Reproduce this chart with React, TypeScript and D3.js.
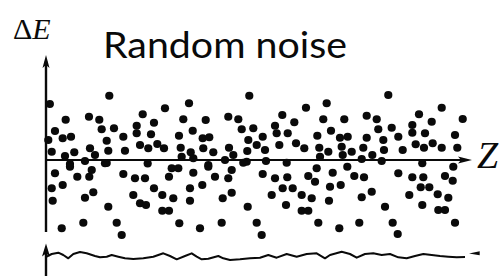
import * as d3 from "d3";

const W = 500;
const H = 276;

// noise dots: [z, ΔE]
const noisePoints: [number, number][] = [
  [0.9, 2.24], [14.86, 2.57], [4.62, 1.61], [10.09, 1.73], [12.51, 1.61], [22.7, 1.83],
  [2.11, 1.16], [13.07, 1.23], [15.96, 1.27], [21.29, 1.37], [21.29, 1.07], [3.92, 0.87],
  [5.87, 0.93], [18.15, 0.93], [0.54, 0.8], [14.25, 0.77], [1.34, 0.33], [6.64, 0.31],
  [10.33, 0.47], [11.5, 0.2], [14.62, 0.37], [18.54, 0.37], [22.07, 0.6], [24.01, 0.47],
  [4.46, 0.16], [9.15, -0.04], [5.63, -0.16], [14.25, -0.12],
  [47.72, 2.57], [27.93, 2.07], [33.57, 2.27], [25.35, 1.49], [32.23, 1.63], [37.49, 1.6],
  [42.79, 1.73], [45.14, 1.63], [34.44, 1.17], [45.94, 1.23], [48.66, 1.27], [24.65, 1.03],
  [31.22, 0.97], [36.78, 0.87], [38.33, 0.91], [47.49, 0.8], [26.13, 0.64], [27.7, 0.47],
  [31.62, 0.49], [33.97, 0.31], [36.92, 0.47], [39.27, 0.31], [42.96, 0.49], [43.97, 0.2],
  [47.25, 0.36], [49.46, 0.6], [31.85, 0.13], [34.58, 0.07], [38.1, -0.2], [42.02, 0],
  [47.11, -0.07],
  [65.89, 2.27], [61.03, 2.09], [55.47, 1.8], [58.29, 1.51], [65.09, 1.63], [70.02, 1.63],
  [75.28, 1.77], [53.76, 1.37], [66.9, 1.17], [50.87, 0.93], [54.15, 1.07], [56.74, 1.07],
  [63.69, 0.97], [69.01, 0.89], [70.82, 0.93], [75.28, 0.89], [51.41, 0.4], [54.77, 0.6],
  [58.69, 0.67], [60.63, 0.47], [64.15, 0.49], [66.27, 0.33], [69.41, 0.53], [71.76, 0.33],
  [74.48, 0.49], [51.64, -0.04], [56.5, -0.11], [64.32, 0.13], [69.65, 0.2], [74.11, 0.04],
  [80.35, 2.6], [92.89, 2.09], [87.56, 1.83], [97.82, 1.64], [77.63, 1.63], [90.54, 1.53],
  [85.99, 1.4], [78.0, 1.23], [81.15, 1.29], [85.99, 1.09], [88.97, 1.07], [96.01, 1.0],
  [82.7, 0.93], [79.18, 0.8], [86.78, 0.63], [90.77, 0.67], [88.73, 0.49], [92.89, 0.49],
  [96.55, 0.49], [79.34, 0.4], [83.73, 0.4], [76.6, 0.2], [78.8, -0.04],
  [5.63, -0.27], [2.11, -0.53], [7.35, -0.67], [10.16, -0.67], [10.73, -0.4], [13.85, -0.13],
  [18.15, -0.56], [20.89, -0.73], [23.24, -0.73], [1.34, -1.13], [3.92, -1.0], [9.15, -1.51],
  [11.1, -1.29], [20.49, -1.4], [1.57, -1.63], [14.62, -1.87], [22.07, -1.73], [23.47, -1.8],
  [8.76, -2.51], [16.6, -2.51], [3.69, -2.73], [17.77, -3.0], [23.87, -0.14],
  [29.51, -0.33], [31.06, -0.33], [34.58, -0.51], [38.1, -0.27], [43.59, -0.4], [46.31, -0.11],
  [28.87, -0.67], [39.67, -0.67], [42.79, -0.73], [25.35, -1.13], [33.8, -1.13], [36.69, -1.0],
  [27.3, -1.4], [29.88, -1.53], [33.8, -1.63], [41.48, -1.53], [43.59, -1.31], [27.3, -2.03],
  [28.87, -2.03], [47.35, -1.87], [31.29, -2.53], [41.24, -2.51], [49.46, -2.51], [36.15, -2.73],
  [50.87, -0.56], [53.76, -0.73], [56.64, -0.69], [61.57, -0.64], [63.15, -0.87], [63.54, -0.33],
  [67.3, -0.51], [70.73, -0.27], [72.37, -0.64], [74.65, -0.69], [55.56, -1.13], [57.91, -1.13],
  [66.67, -1.07], [69.18, -1.0], [52.98, -1.4], [60.02, -1.4], [62.37, -1.53], [74.11, -1.49],
  [66.43, -1.63], [56.34, -1.8], [60.02, -2.03], [61.57, -2.03], [63.92, -2.51], [73.54, -2.51],
  [68.85, -2.73], [50.63, -3.0],
  [88.33, -0.13], [95.61, -0.27], [82.7, -0.53], [85.99, -0.69], [88.57, -0.69], [93.66, -0.64],
  [95.47, -0.83], [87.96, -1.09], [89.98, -1.09], [76.46, -1.27], [85.28, -1.4], [91.95, -1.37],
  [94.44, -1.51], [79.58, -1.87], [88.33, -1.8], [92.09, -2.0], [93.66, -2.0], [81.38, -2.51],
  [96.01, -2.51], [82.56, -2.96],
];

// wavy trace under the plot
const waveZ = [
  0.16, 1.34, 2.89, 4.06, 5.23, 6.41, 7.98, 9.55, 11.5, 12.68, 14.25, 15.42, 16.97, 18.54,
  20.49, 22.84, 25.19, 27.54, 29.11, 30.68, 32.63, 34.2, 35.38, 36.55, 38.1, 40.45, 41.62,
  43.19, 45.54, 47.89, 50.23, 52.18, 54.15, 56.5, 58.85, 61.2, 63.54, 65.49, 66.67, 69.41,
  71.36, 72.93, 74.88, 76.83, 78.8, 80.75, 82.7, 84.67, 86.62, 88.57, 90.54, 92.49, 94.44,
  96.41, 98.36,
];
const waveV = [
  -0.17, 0.5, 0.83, 0.25, -0.58, 0.5, 1.0, 0.67, 0, -0.33, -0.17, 0.25, -0.17, -0.58,
  -0.75, -0.58, -0.17, 0.67, 0, -0.83, 0, 0.67, -0.17, -0.83, -0.67, 0, -0.58,
  -1.0, -0.83, -0.58, -0.42, 0.25, -0.42, 0.5, -0.17, 0.5, 0.67, -0.58, 0.25, 1.08,
  0.5, -0.42, 0.5, 0.67, 0.25, 0.5, -0.33, -0.58, 0, 0.5, 0.25, 0, -0.17,
  -0.33, -0.25,
];

const INK = "#0a0a0a";

export default function App() {
  const x = d3.scaleLinear().domain([0, 100]).range([46, 472]);
  const y = d3.scaleLinear().domain([-4, 4]).range([260, 60]);
  const wy = d3.scaleLinear().domain([-2, 2]).range([264, 248]);

  const wave = d3
    .line<number>()
    .x((d) => x(d))
    .y((_, i) => wy(waveV[i]))(waveZ);

  const x0 = x(0);
  const y0 = y(0);
  const yTop = y(4.2);
  const yBot = y(-2.88);
  const xEnd = x(100);
  const bTip = wy(-2) - 20.5;

  return (
    <svg
      width={W}
      height={H}
      style={{ position: "absolute", left: 0, top: 0, background: "#fff" }}
    >
      {/* labels */}
      <text x={13} y={39} fontFamily="Liberation Serif" fontSize={30} fill={INK}>
        Δ<tspan fontStyle="italic">E</tspan>
      </text>
      <text
        x={103}
        y={57.5}
        fontFamily="Lato"
        fontSize={36}
        textLength={244}
        lengthAdjust="spacingAndGlyphs"
        fill={INK}
      >
        Random noise
      </text>
      <text
        x={477}
        y={168}
        fontFamily="Liberation Serif"
        fontStyle="italic"
        fontSize={38}
        fill={INK}
      >
        Z
      </text>

      {/* vertical axis */}
      <line x1={x0} x2={x0} y1={yTop + 6} y2={yBot} stroke={INK} strokeWidth={2.4} />
      <path
        d={`M${x0},${yTop} L${x0 + 3.5},${yTop + 13} L${x0},${yTop + 10} L${x0 - 3.5},${yTop + 13} Z`}
        fill={INK}
      />

      {/* horizontal axis */}
      <line x1={x0} x2={xEnd - 6} y1={y0} y2={y0} stroke={INK} strokeWidth={2.2} />
      <path
        d={`M${xEnd},${y0} L${xEnd - 14},${y0 - 3.5} L${xEnd - 11},${y0} L${xEnd - 14},${y0 + 3.5} Z`}
        fill={INK}
      />

      {/* dots */}
      {noisePoints.map(([z, e], i) => (
        <circle key={i} cx={x(z)} cy={y(e)} r={4.1} fill={INK} />
      ))}

      {/* bottom strip: axis and wavy trace */}
      <line x1={x0} x2={x0} y1={bTip + 6} y2={H} stroke={INK} strokeWidth={2.4} />
      <path
        d={`M${x0},${bTip} L${x0 + 4},${bTip + 13} L${x0},${bTip + 10} L${x0 - 4},${bTip + 13} Z`}
        fill={INK}
      />
      <path d={wave ?? ""} fill="none" stroke={INK} strokeWidth={2} strokeLinejoin="round" />
      <path
        d={`M${x(99.3)},${wy(0.6)} L${x(101.8)},${wy(1.2)} L${x(101.8)},${wy(0.2)} Z`}
        fill={INK}
      />
    </svg>
  );
}
